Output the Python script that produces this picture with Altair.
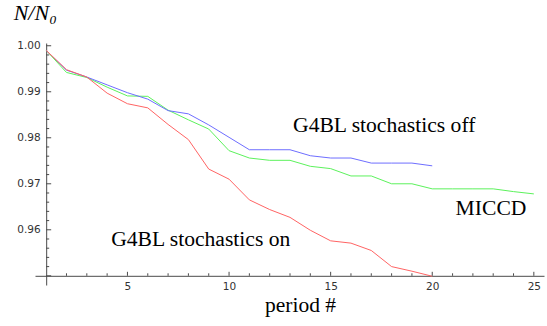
import altair as alt
import pandas as pd
import numpy as np

# ---- data ----
period_20 = list(range(1, 21))
period_25 = list(range(1, 26))

g4bl_off = [0.9990, 0.9947, 0.9932, 0.9915, 0.9898, 0.9884, 0.9859, 0.9852, 0.9828, 0.9801,
            0.9774, 0.9774, 0.9774, 0.9761, 0.9756, 0.9756, 0.9745, 0.9745, 0.9745, 0.9739]
miccd = [0.9990, 0.9942, 0.9931, 0.9910, 0.9891, 0.9890, 0.9860, 0.9839, 0.9819, 0.9772,
         0.9756, 0.9751, 0.9751, 0.9738, 0.9733, 0.9717, 0.9717, 0.9700, 0.9700, 0.9689,
         0.9689, 0.9689, 0.9689, 0.9683, 0.9678]
g4bl_on = [0.9990, 0.9948, 0.9932, 0.9897, 0.9874, 0.9865, 0.9829, 0.9796, 0.9732, 0.9710,
           0.9665, 0.9644, 0.9627, 0.9599, 0.9576, 0.9571, 0.9555, 0.9520, 0.9510, 0.9499]

series_names = ["MICCD", "G4BL stochastics off", "G4BL stochastics on"]
series_colors = ["#5cf25c", "#6e6eff", "#ff6464"]

x_tick_labels = [5, 10, 15, 20, 25]
y_tick_labels = [0.96, 0.97, 0.98, 0.99, 1.00]

annot_text = ["G4BL stochastics off", "MICCD", "G4BL stochastics on"]
annot_x = [13.15, 21.15, 4.2]
annot_y = [0.9812, 0.9633, 0.9564]

SERIF = "Liberation Serif"
SANS = "DejaVu Sans"

# ---- layout ----
W, H = 509, 242
x_dom = [0.45, 25.5]
y_dom = [0.948, 1.0006]
px_per_x = W / (x_dom[1] - x_dom[0])
px_per_y = H / (y_dom[1] - y_dom[0])
x_axis_at = 1.0
y_axis_at = 0.95

rows = []
for name, xs, ys in [("MICCD", period_25, miccd),
                     ("G4BL stochastics off", period_20, g4bl_off),
                     ("G4BL stochastics on", period_20, g4bl_on)]:
    for xv, yv in zip(xs, ys):
        rows.append({"period": xv, "ratio": yv, "series": name})
df = pd.DataFrame(rows)

xscale = alt.Scale(domain=x_dom, nice=False, zero=False)
yscale = alt.Scale(domain=y_dom, nice=False, zero=False)

axis_col = "#4a4a4a"
label_col = "#333333"

x_axis = alt.Axis(values=x_tick_labels, format="d", ticks=False, tickSize=0,
                  offset=-(y_axis_at - y_dom[0]) * px_per_y,
                  labelPadding=6, labelFontSize=10.5, labelFont=SANS,
                  labelColor=label_col, domainColor=axis_col, grid=False,
                  title="period #", titleFont=SERIF, titleFontSize=21.5,
                  titleFontWeight="normal", titleColor="black",
                  titleX=265, titleY=36, titleBaseline="alphabetic",
                  titleAlign="center")
y_axis = alt.Axis(values=y_tick_labels, format=".2f", ticks=False, tickSize=0,
                  offset=-(x_axis_at - x_dom[0]) * px_per_x,
                  labelPadding=6, labelFontSize=10.5, labelFont=SANS,
                  labelColor=label_col, domainColor=axis_col, grid=False,
                  title="N/N₀", titleFont=SERIF, titleFontSize=22,
                  titleFontStyle="italic", titleFontWeight="normal",
                  titleColor="black", titleAngle=0, titleAlign="left",
                  titleBaseline="alphabetic", titleX=-33, titleY=-24)

lines = alt.Chart(df).mark_line(strokeWidth=1).encode(
    x=alt.X("period:Q", scale=xscale, axis=x_axis),
    y=alt.Y("ratio:Q", scale=yscale, axis=y_axis),
    color=alt.Color("series:N", scale=alt.Scale(domain=series_names, range=series_colors),
                    legend=None),
)

# inward ticks
y_major = np.round(np.arange(0.95, 1.0001, 0.01), 3)
y_minor = [v for v in np.round(np.arange(0.952, 1.0001, 0.002), 3) if v not in y_major]
yt = pd.DataFrame({
    "y": list(y_major) + list(y_minor),
    "x0": x_axis_at,
    "x1": [x_axis_at + 5 / px_per_x] * len(y_major) + [x_axis_at + 3 / px_per_x] * len(y_minor),
})
x_major = x_tick_labels
x_minor = [v for v in range(2, 26) if v not in x_major]
xt = pd.DataFrame({
    "x": list(x_major) + list(x_minor),
    "y0": y_axis_at,
    "y1": [y_axis_at + 4 / px_per_y] * len(x_major) + [y_axis_at + 2.5 / px_per_y] * len(x_minor),
})

yticks = alt.Chart(yt).mark_rule(color=axis_col, strokeWidth=1).encode(
    y=alt.Y("y:Q", scale=yscale, axis=y_axis),
    x=alt.X("x0:Q", scale=xscale, axis=x_axis),
    x2="x1:Q",
)
xticks = alt.Chart(xt).mark_rule(color=axis_col, strokeWidth=1).encode(
    x=alt.X("x:Q", scale=xscale, axis=x_axis),
    y=alt.Y("y0:Q", scale=yscale, axis=y_axis),
    y2="y1:Q",
)

ann = pd.DataFrame({"label": annot_text, "x": annot_x, "y": annot_y})
texts = alt.Chart(ann).mark_text(align="left", baseline="alphabetic", font=SERIF,
                                 fontSize=21.6, color="black").encode(
    x=alt.X("x:Q", scale=xscale, axis=x_axis),
    y=alt.Y("y:Q", scale=yscale, axis=y_axis),
    text="label:N",
)

chart = alt.layer(lines, yticks, xticks, texts).properties(
    width=W, height=H,
    autosize=alt.AutoSizeParams(type="none"),
    padding={"left": 35, "top": 43, "right": 3, "bottom": 41},
    background="white",
).configure_view(stroke=None)

chart.save("out.html", embed_options={"renderer": "svg", "actions": False})
